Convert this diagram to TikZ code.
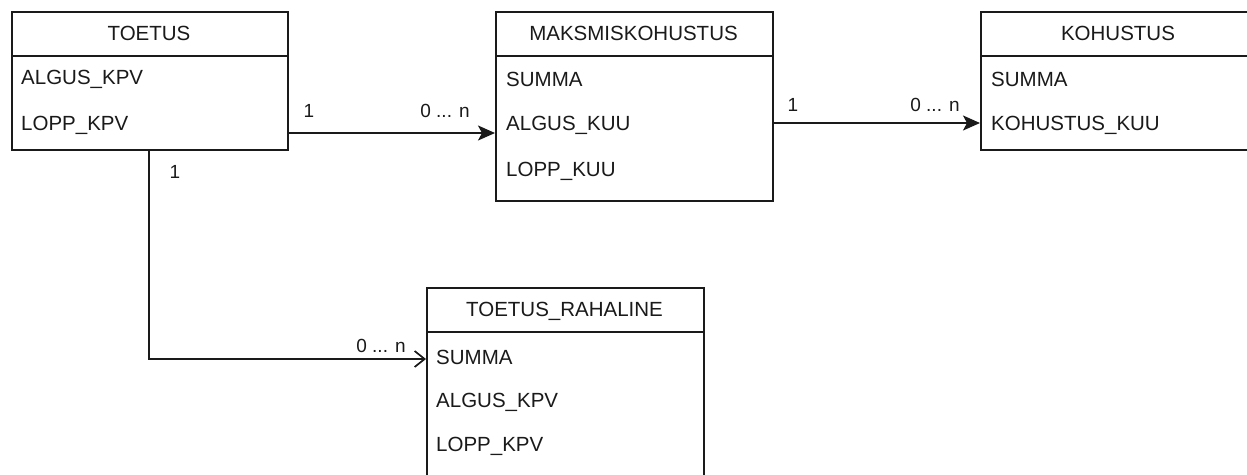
\documentclass[tikz,border=0pt]{standalone}
\usepackage{fontspec}
\setmainfont{Liberation Sans}
\usetikzlibrary{arrows.meta}
\definecolor{ink}{HTML}{1A1A1A}
\tikzset{
  entity/.style={draw=ink, line width=1.7pt, inner sep=0pt, anchor=north west, fill=white},
  divider/.style={draw=ink, line width=1.7pt},
  head/.style={inner sep=0pt, text=ink, font=\fontsize{20.5}{24}\selectfont},
  attr/.style={inner sep=0pt, anchor=west, text=ink, font=\fontsize{20.5}{24}\selectfont},
  mult/.style={inner sep=0pt, text=ink, font=\fontsize{19}{22}\selectfont},
  relfill/.style={draw=ink, line width=1.7pt, -{Stealth[length=17pt,width=15pt,inset=4pt]}},
  relopen/.style={draw=ink, line width=1.7pt, -{Straight Barb[length=10pt,width=16pt,line width=1.7pt]}},
}
\begin{document}
\begin{tikzpicture}[x=1pt,y=-1pt]
\useasboundingbox (0,0) rectangle (1247,474);
\clip (0,0) rectangle (1247,474);

% TOETUS
\node[entity, minimum width=276pt, minimum height=138pt] (toetus) at (11,11) {};
\draw[divider] (11,56) -- (287,56);
\node[head] (toetus-h) at (149,33) {TOETUS};
\node[attr] (toetus-a1) at (21,79) {ALGUS\_KPV};
\node[attr] (toetus-a2) at (21,125) {LOPP\_KPV};

% MAKSMISKOHUSTUS
\node[entity, minimum width=277pt, minimum height=189pt] (maks) at (495,11) {};
\draw[divider] (495,56) -- (772,56);
\node[head] (maks-h) at (633.5,33) {MAKSMISKOHUSTUS};
\node[attr] (maks-a1) at (506,79) {SUMMA};
\node[attr] (maks-a2) at (506,125) {ALGUS\_KUU};
\node[attr] (maks-a3) at (506,171) {LOPP\_KUU};

% KOHUSTUS
\node[entity, minimum width=276pt, minimum height=138pt] (koh) at (980,11) {};
\draw[divider] (980,56) -- (1256,56);
\node[head] (koh-h) at (1118,33) {KOHUSTUS};
\node[attr] (koh-a1) at (991,79) {SUMMA};
\node[attr] (koh-a2) at (991,125) {KOHUSTUS\_KUU};

% TOETUS_RAHALINE
\node[entity, minimum width=277pt, minimum height=200pt] (raha) at (426,287) {};
\draw[divider] (426,332) -- (703,332);
\node[head] (raha-h) at (564.5,311) {TOETUS\_RAHALINE};
\node[attr] (raha-a1) at (436,357) {SUMMA};
\node[attr] (raha-a2) at (436,402) {ALGUS\_KPV};
\node[attr] (raha-a3) at (436,446) {LOPP\_KPV};

% connector levels
\coordinate (lvl1) at (0,133);
\coordinate (lvl2) at (0,123);
\coordinate (lvl3) at (149,359);

% relations
\draw[relfill] (toetus.east |- lvl1) -- (maks.west |- lvl1);
\draw[relfill] (maks.east |- lvl2) -- (koh.west |- lvl2);
\draw[relopen] (toetus.south -| lvl3) -- (lvl3) -- (raha.west |- lvl3);

% multiplicities
\node[mult] (m1) at (309,111) {1};
\node[mult] (m2) at (445,111) {0 ... n};
\node[mult] (m3) at (793,105) {1};
\node[mult] (m4) at (935,105) {0 ... n};
\node[mult] (m5) at (175,172) {1};
\node[mult] (m6) at (381,346) {0 ... n};
\end{tikzpicture}
\end{document}
